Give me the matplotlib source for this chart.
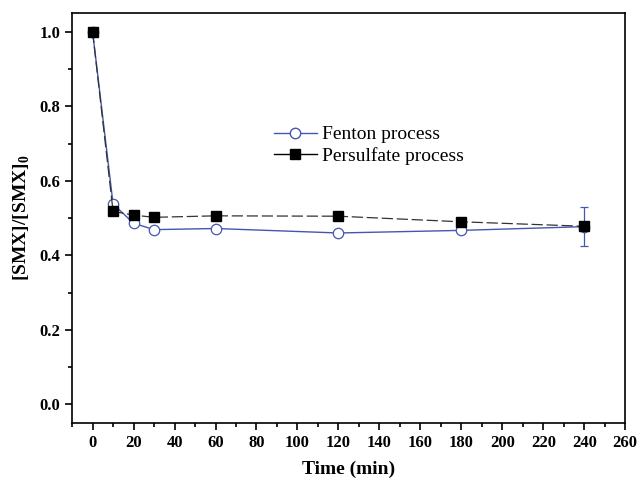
import matplotlib
matplotlib.use("Agg")
import matplotlib.pyplot as plt
from matplotlib.ticker import MultipleLocator, FormatStrFormatter
from matplotlib.lines import Line2D

plt.rcParams['font.family'] = ['Liberation Serif', 'DejaVu Serif']
plt.rcParams['mathtext.fontset'] = 'custom'
plt.rcParams['mathtext.rm'] = 'Liberation Serif'
plt.rcParams['mathtext.bf'] = 'Liberation Serif:bold'

time = [0, 10, 20, 30, 60, 120, 180, 240]
fenton = [1.0, 0.538, 0.486, 0.469, 0.472, 0.460, 0.467, 0.477]
fenton_err = [0.004, 0.007, 0.007, 0.007, 0.007, 0.007, 0.007, 0.052]
persulfate = [1.0, 0.518, 0.508, 0.502, 0.506, 0.505, 0.490, 0.478]

blue = '#4457b0'

fig = plt.figure(figsize=(6.38, 4.83), dpi=100)
ax = fig.add_axes([0.113, 0.124, 0.867, 0.849])

ax.errorbar(time, fenton, yerr=fenton_err, color=blue, marker='o', ms=7.5,
            mfc='white', mec=blue, mew=0.9, lw=1.0, capsize=3, elinewidth=0.9,
            capthick=0.9, zorder=3)
ax.plot(time, persulfate, color='#333333', marker='s', ms=6.8, mfc='black',
        mec='black', lw=0.9, dashes=(9, 3), zorder=4)

ax.set_xlim(-10, 260)
ax.set_ylim(-0.05, 1.05)
ax.xaxis.set_major_locator(MultipleLocator(20))
ax.xaxis.set_minor_locator(MultipleLocator(10))
ax.yaxis.set_major_locator(MultipleLocator(0.2))
ax.yaxis.set_minor_locator(MultipleLocator(0.1))
ax.tick_params(which='both', direction='out', top=False, right=False, width=1.2)
ax.tick_params(which='major', length=5, labelsize=12)
ax.tick_params(which='minor', length=3)
ax.yaxis.set_major_formatter(FormatStrFormatter('%.1f'))
for lab in ax.get_xticklabels() + ax.get_yticklabels():
    lab.set_fontweight('bold')
for s in ax.spines.values():
    s.set_linewidth(1.2)

ax.set_xlabel('Time (min)', fontsize=14, fontweight='bold', labelpad=7)
ax.set_ylabel(r'[SMX]/[SMX]$_\mathbf{0}$', fontsize=14, fontweight='bold', labelpad=5)

handles = [
    Line2D([], [], color=blue, marker='o', ms=7.5, mfc='white', mec=blue, lw=1.0),
    Line2D([], [], color='black', marker='s', ms=6.8, mfc='black', lw=1.0),
]
ax.legend(handles, ['Fenton process', 'Persulfate process'], loc='center left',
          bbox_to_anchor=(0.333, 0.677), frameon=False, fontsize=14,
          handlelength=2.2, handletextpad=0.3, labelspacing=0.2)

for lab in ax.get_xticklabels() + ax.get_yticklabels():
    lab.set_fontweight('bold')
fig.savefig('out.png', dpi=100)
